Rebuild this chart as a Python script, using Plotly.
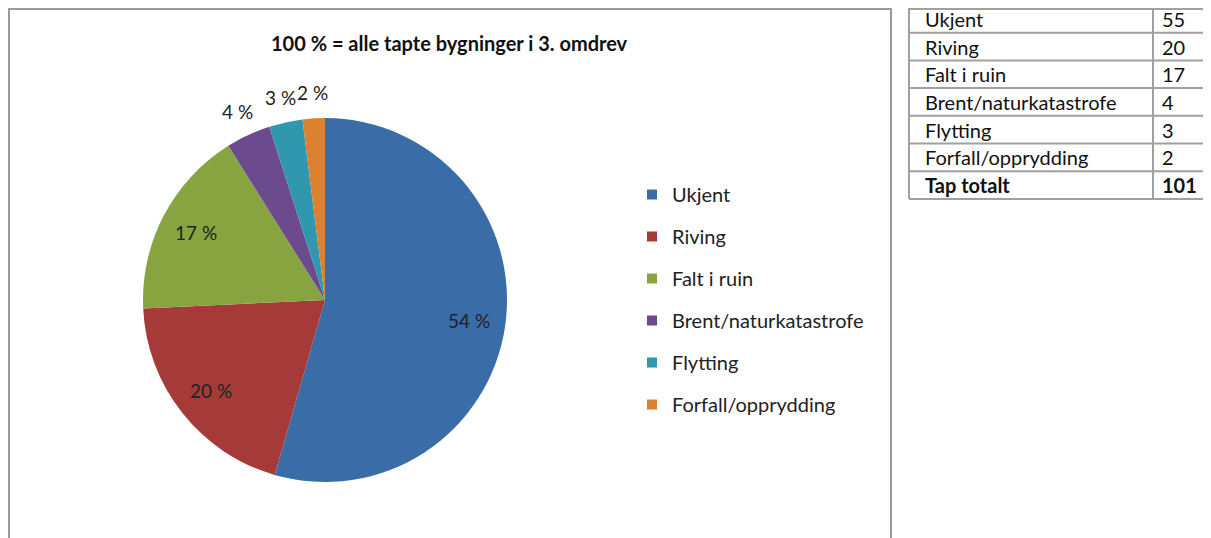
import math
import plotly.graph_objects as go

categories = ["Ukjent", "Riving", "Falt i ruin", "Brent/naturkatastrofe", "Flytting", "Forfall/opprydding"]
values = [55, 20, 17, 4, 3, 2]
total_label = "Tap totalt"
colors = ["#3A6CA7", "#A63A38", "#88A440", "#6B4A8E", "#2F98AE", "#DB8230"]
title_text = "100 % = alle tapte bygninger i 3. omdrev"

# the page body has an 8px margin: figure covers page pixels 8..1211 / 8..538
OFF = 8
W, H = 1211 - OFF, 538 - OFF
FONT = "Lato, Carlito, Calibri, sans-serif"


def px(x):
    return (x - OFF) / W


def py(y):
    return 1 - (y - OFF) / H


total = sum(values)
pcts = [f"{round(v / total * 100)} %" for v in values]

fig = go.Figure()

# pie centred ~ (325,300) page px, radius ~182
cx, cy, r = 325, 300, 182
fig.add_trace(go.Pie(
    labels=categories, values=values, sort=False, direction="clockwise", rotation=0,
    marker=dict(colors=colors, line=dict(color="white", width=0)),
    textinfo="none", hoverinfo="label+value+percent",
    domain=dict(x=[px(cx - r), px(cx + r)], y=[py(cy + r), py(cy - r)]),
    showlegend=False,
))

# data labels: inside at ~0.8R, small slices outside at ~1.14R
annotations = []
cum = 0
for v, t in zip(values, pcts):
    mid = 2 * math.pi * (cum + v / 2) / total
    cum += v
    k = 0.8 if v / total > 0.1 else 1.14
    lx = cx + k * r * math.sin(mid)
    ly = cy - k * r * math.cos(mid)
    annotations.append(dict(x=px(lx), y=py(ly), xref="paper", yref="paper", text=t, showarrow=False,
                            xanchor="center", yanchor="middle",
                            font=dict(family=FONT, size=19, color="#222222")))

# legend via marker-only dummy traces
for c, col in zip(categories, colors):
    fig.add_trace(go.Scatter(x=[None], y=[None], mode="markers", name=c, legendgroup=c,
                             marker=dict(symbol="square", size=10, color=col), hoverinfo="skip"))

# title
annotations.append(dict(x=px(449), y=py(43), xref="paper", yref="paper", text=f"<b>{title_text}</b>",
                        showarrow=False, xanchor="center", yanchor="middle",
                        font=dict(family=FONT, size=20, color="#111111")))

# table
tbl_names = categories + [f"<b>{total_label}</b>"]
tbl_vals = [str(v) for v in values] + [f"<b>{total}</b>"]
row_h = 27.7
tbl_top = 5
shapes = []
for i, (nm, vv) in enumerate(zip(tbl_names, tbl_vals)):
    yc = tbl_top + row_h * (i + 0.5)
    annotations.append(dict(x=px(923), y=py(yc), xref="paper", yref="paper", text=nm, showarrow=False,
                            xanchor="left", yanchor="middle", font=dict(family=FONT, size=20, color="#111111")))
    annotations.append(dict(x=px(1160), y=py(yc), xref="paper", yref="paper", text=vv, showarrow=False,
                            xanchor="left", yanchor="middle", font=dict(family=FONT, size=20, color="#111111")))
for i in range(len(tbl_names) + 1):
    yl = max(tbl_top + row_h * i, OFF + 1)
    shapes.append(dict(type="line", xref="paper", yref="paper", x0=px(909), x1=1.0, y0=py(yl), y1=py(yl),
                       line=dict(color="#A0A0A0", width=2)))
tbl_bot = tbl_top + row_h * len(tbl_names)
for xv in (909, 1153):
    shapes.append(dict(type="line", xref="paper", yref="paper", x0=px(xv), x1=px(xv), y0=py(tbl_bot), y1=1.0,
                       line=dict(color="#A0A0A0", width=2)))

# chart-area border
shapes.append(dict(type="rect", xref="paper", yref="paper",
                   x0=px(OFF + 1), x1=px(891), y0=-0.05, y1=py(OFF + 1),
                   line=dict(color="#9A9A9A", width=2), fillcolor="rgba(0,0,0,0)", layer="below"))

fig.update_layout(
    width=W, height=H,
    margin=dict(l=0, r=0, t=0, b=0),
    paper_bgcolor="white", plot_bgcolor="white",
    xaxis=dict(visible=False), yaxis=dict(visible=False),
    legend=dict(x=px(632), y=py(175), xanchor="left", yanchor="top",
                font=dict(family=FONT, size=20, color="#222222"),
                tracegroupgap=13, itemwidth=30, bgcolor="rgba(0,0,0,0)"),
    annotations=annotations,
    shapes=shapes,
)

fig.write_html("out.html")
